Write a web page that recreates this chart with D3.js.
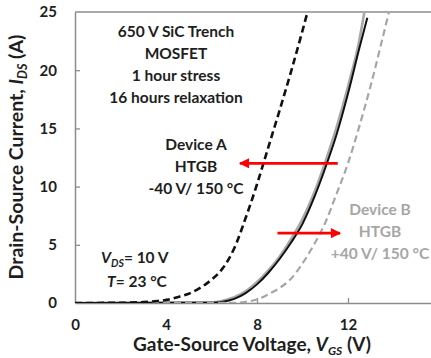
<!DOCTYPE html>
<html>
<head>
<meta charset="utf-8">
<script src="https://cdn.jsdelivr.net/npm/d3@7/dist/d3.min.js"></script>
<style>
  html, body { margin: 0; padding: 0; background: #fff; }
  svg { display: block; font-family: Lato, "Open Sans", sans-serif; font-weight: bold; }
</style>
</head>
<body>
<svg id="chart" width="431" height="358"></svg>
<script>
// Transfer curves I_DS(V_GS) of two 650 V SiC trench MOSFETs
const xTicks = [0, 4, 8, 12, 16];
const yTicks = [0, 5, 10, 15, 20, 25];

// Device A after -40 V HTGB (threshold shifted down)
const devAStressV = [0, 2, 3, 3.5, 4, 4.5, 5, 5.5, 6, 6.5, 7, 7.5, 8, 8.5, 9, 9.5, 10, 10.22];
const devAStressI = [0, 0.02, 0.08, 0.15, 0.25, 0.5, 0.8, 1.3, 2.0, 3.0, 4.7, 7.3, 10.2, 13.4, 16.6, 19.9, 23.4, 25];

// Device A reference curve (black solid)
const devARefV = [0, 6, 6.5, 7, 7.5, 8, 8.5, 9, 9.5, 10, 10.5, 11, 11.5, 12, 12.5, 12.85];
const devARefI = [0, 0.02, 0.1, 0.35, 0.85, 1.6, 2.6, 3.8, 5.2, 6.8, 9.0, 11.6, 14.5, 18.0, 21.9, 24.5];

// Device B reference curve (grey solid)
const devBRefV = [0, 6, 6.5, 7, 7.5, 8, 8.5, 9, 9.5, 10, 10.5, 11, 11.5, 12, 12.5, 12.72];
const devBRefI = [0, 0.05, 0.2, 0.5, 1.0, 1.8, 2.8, 4.0, 5.5, 7.2, 9.4, 12.1, 15.1, 18.6, 22.6, 25];

// Device B after +40 V HTGB (threshold shifted up)
const devBStressV = [0, 7, 7.5, 8, 8.5, 9, 9.5, 10, 10.5, 11, 11.5, 12, 12.5, 13, 13.5, 13.8];
const devBStressI = [0, 0.02, 0.1, 0.3, 0.75, 1.3, 2.1, 3.4, 5.0, 6.9, 9.4, 12.0, 15.2, 18.7, 22.6, 25];

const svg = d3.select("#chart");
const x = d3.scaleLinear().domain([0, 16]).range([75, 439]);
const y = d3.scaleLinear().domain([0, 25]).range([303, 12]);

const axisColor = "#8c8c8c";
const textColor = "#1e1e1e";

// plot frame top edge
svg.append("line")
  .attr("x1", x(0)).attr("x2", 431)
  .attr("y1", y(25)).attr("y2", y(25))
  .attr("stroke", axisColor).attr("stroke-width", 1.5);

svg.append("clipPath").attr("id", "plotClip")
  .append("rect").attr("x", x(0)).attr("y", y(25)).attr("width", 431 - x(0)).attr("height", y(0) - y(25));

// axes with inward ticks
const xAxis = d3.axisBottom(x).tickValues(xTicks).tickSize(-5).tickSizeOuter(0).tickPadding(16);
const yAxis = d3.axisLeft(y).tickValues(yTicks).tickSize(-5).tickSizeOuter(0).tickPadding(18);

const gx = svg.append("g").attr("transform", `translate(0,${y(0)})`).call(xAxis);
const gy = svg.append("g").attr("transform", `translate(${x(0)},0)`).call(yAxis);
[gx, gy].forEach(g => {
  g.select(".domain").attr("stroke", axisColor).attr("stroke-width", 1.5);
  g.selectAll(".tick line").attr("stroke", axisColor).attr("stroke-width", 1.3);
  g.selectAll(".tick text").attr("fill", textColor).style("font-size", "15px").style("font-weight", "bold").style("font-family", "Lato, sans-serif");
});
gy.selectAll(".tick line").filter(d => d === 0 || d === 25).remove();
gx.selectAll(".tick line").filter(d => d === 0).remove();

// curves
const line = d3.line().x(d => x(d[0])).y(d => y(d[1])).curve(d3.curveMonotoneX);
const curves = svg.append("g").attr("clip-path", "url(#plotClip)");
const series = [
  { v: devBRefV, i: devBRefI, color: "#a8a8a8", width: 2.6, dash: null },
  { v: devARefV, i: devARefI, color: "#111", width: 2, dash: null },
  { v: devBStressV, i: devBStressI, color: "#a6a6a6", width: 2.2, dash: "7,4" },
  { v: devAStressV, i: devAStressI, color: "#111", width: 2.6, dash: "7,4" }
];
series.forEach(s => {
  curves.append("path")
    .datum(s.v.map((v, k) => [v, s.i[k]]))
    .attr("d", line)
    .attr("fill", "none")
    .attr("stroke", s.color)
    .attr("stroke-width", s.width)
    .attr("stroke-dasharray", s.dash);
});

// red arrows
const defs = svg.append("defs");
defs.append("marker").attr("id", "arrowHead")
  .attr("viewBox", "0 0 10 10").attr("refX", 9).attr("refY", 5)
  .attr("markerWidth", 5).attr("markerHeight", 3.6).attr("orient", "auto")
  .attr("markerUnits", "strokeWidth")
  .append("path").attr("d", "M0,0 L10,5 L0,10 z").attr("fill", "#ff0000");

function arrow(v1, v2, cur) {
  svg.append("line")
    .attr("x1", x(v1)).attr("x2", x(v2))
    .attr("y1", y(cur)).attr("y2", y(cur))
    .attr("stroke", "#ff0000").attr("stroke-width", 2.8)
    .attr("marker-end", "url(#arrowHead)");
}
arrow(11.55, 7.25, 12.0);
arrow(8.9, 11.65, 6.0);

// annotations
function block(cx, baseline, lines, color, size) {
  const t = svg.append("text").attr("text-anchor", "middle").attr("fill", color).style("font-size", size + "px");
  lines.forEach((s, k) => {
    t.append("tspan").attr("x", cx).attr("y", baseline + k * 22).text(s);
  });
}
block(176, 37, ["650 V SiC Trench", "MOSFET", "1 hour stress", "16 hours relaxation"], textColor, 15.5);
block(196, 150, ["Device A", "HTGB", "-40 V/ 150 \u00B0C"], textColor, 15.5);
block(380, 215, ["Device B", "HTGB", "+40 V/ 150 \u00B0C"], "#a6a6a6", 15.5);

const vds = svg.append("text").attr("x", 101).attr("y", 263).attr("fill", textColor).style("font-size", "15.5px");
vds.append("tspan").style("font-style", "italic").text("V");
vds.append("tspan").style("font-style", "italic").style("font-size", "10.5px").attr("dy", 4).text("DS");
vds.append("tspan").attr("dy", -4).text("= 10 V");
const temp = svg.append("text").attr("x", 107).attr("y", 287).attr("fill", textColor).style("font-size", "15.5px");
temp.append("tspan").style("font-style", "italic").text("T");
temp.append("tspan").text("= 23 \u00B0C");

// axis titles
const xt = svg.append("text").attr("x", 252).attr("y", 351).attr("text-anchor", "middle").attr("fill", textColor).style("font-size", "19px");
xt.append("tspan").text("Gate-Source Voltage, ");
xt.append("tspan").style("font-style", "italic").text("V");
xt.append("tspan").style("font-style", "italic").style("font-size", "12px").attr("dy", 4).text("GS");
xt.append("tspan").attr("dy", -4).text(" (V)");

const yt = svg.append("text").attr("transform", "translate(23,157) rotate(-90)").attr("text-anchor", "middle").attr("fill", textColor).style("font-size", "19.5px");
yt.append("tspan").text("Drain-Source Current, ");
yt.append("tspan").style("font-style", "italic").text("I");
yt.append("tspan").style("font-style", "italic").style("font-size", "12.5px").attr("dy", 4).text("DS");
yt.append("tspan").attr("dy", -4).text(" (A)");
</script>
</body>
</html>
